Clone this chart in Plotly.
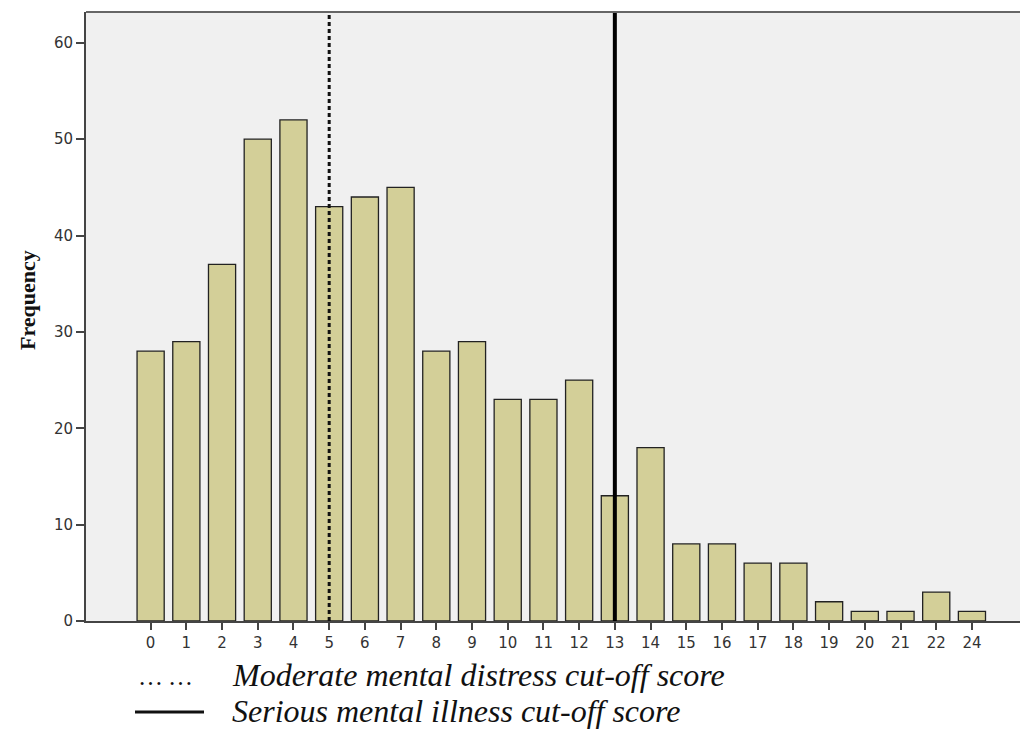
import plotly.graph_objects as go

scores = ["0", "1", "2", "3", "4", "5", "6", "7", "8", "9", "10", "11", "12",
          "13", "14", "15", "16", "17", "18", "19", "20", "21", "22", "24"]
frequency = [28, 29, 37, 50, 52, 43, 44, 45, 28, 29, 23, 23, 25,
             13, 18, 8, 8, 6, 6, 2, 1, 1, 3, 1]
y_ticks = [0, 10, 20, 30, 40, 50, 60]
moderate_cutoff = "5"
serious_cutoff = "13"
legend_moderate = "Moderate mental distress cut-off score"
legend_serious = "Serious mental illness cut-off score"

OFF = 8  # page body margin
W, H = 1028 - OFF, 730 - OFF
L, R, T, B = 86 - OFF, 0, 12 - OFF, 109
pw = W - L - R
ph = H - T - B

def px_x(p):
    return (p - OFF - L) / pw

def px_y(p):
    return (H - B - (p - OFF)) / ph

fig = go.Figure()
fig.add_trace(go.Bar(
    x=scores, y=frequency,
    marker=dict(color="#D3CF98", line=dict(color="#222222", width=1.3)),
    hoverinfo="x+y",
))

fig.add_shape(type="line", xref="x", yref="paper", x0=moderate_cutoff, x1=moderate_cutoff,
              y0=0, y1=1, line=dict(color="#111111", width=3, dash="4px,3px"))
fig.add_shape(type="line", xref="x", yref="paper", x0=serious_cutoff, x1=serious_cutoff,
              y0=0, y1=1, line=dict(color="#000000", width=4))

# legend-like annotations below the chart
fig.add_annotation(xref="paper", yref="paper", x=px_x(136), y=px_y(676), xanchor="left",
                   yanchor="middle", text="…\u2009…", showarrow=False,
                   font=dict(family="Liberation Serif", size=25, color="#111"))
fig.add_annotation(xref="paper", yref="paper", x=px_x(230), y=px_y(675), xanchor="left",
                   yanchor="middle", text=legend_moderate, showarrow=False,
                   font=dict(family="Liberation Serif", size=32, color="#111", style="italic"))
fig.add_shape(type="line", xref="paper", yref="paper", x0=px_x(135), x1=px_x(204),
              y0=px_y(712), y1=px_y(712), line=dict(color="#111", width=3))
fig.add_annotation(xref="paper", yref="paper", x=px_x(230), y=px_y(711), xanchor="left",
                   yanchor="middle", text=legend_serious, showarrow=False,
                   font=dict(family="Liberation Serif", size=32, color="#111", style="italic"))
# y-axis title
fig.add_annotation(xref="paper", yref="paper", x=px_x(27), y=px_y(300), xanchor="center",
                   yanchor="middle", text="<b>Frequency</b>", showarrow=False, textangle=-90,
                   font=dict(family="Liberation Serif", size=22, color="#111"))

fig.update_layout(
    width=W, height=H,
    margin=dict(l=L, r=R, t=T, b=B),
    paper_bgcolor="white",
    plot_bgcolor="#F0F0F0",
    bargap=0.24,
    showlegend=False,
    xaxis=dict(
        type="category", range=[-1.81, 24.57],
        showgrid=False, zeroline=False,
        showline=True, linecolor="#444", linewidth=2,
        ticks="outside", ticklen=7, tickwidth=2, tickcolor="#444",
        tickfont=dict(family="DejaVu Sans", size=15, color="#333"),
    ),
    yaxis=dict(
        range=[0, 63.2],
        tickvals=y_ticks,
        showgrid=False, zeroline=False,
        showline=True, linecolor="#444", linewidth=2, mirror=False,
        ticks="outside", ticklen=8, tickwidth=2, tickcolor="#444",
        tickfont=dict(family="DejaVu Sans", size=15, color="#333"),
    ),
)
# top border of plot area
fig.add_shape(type="line", xref="paper", yref="paper", x0=0, x1=1, y0=1, y1=1,
              line=dict(color="#666", width=2))

fig.write_html("out.html")
